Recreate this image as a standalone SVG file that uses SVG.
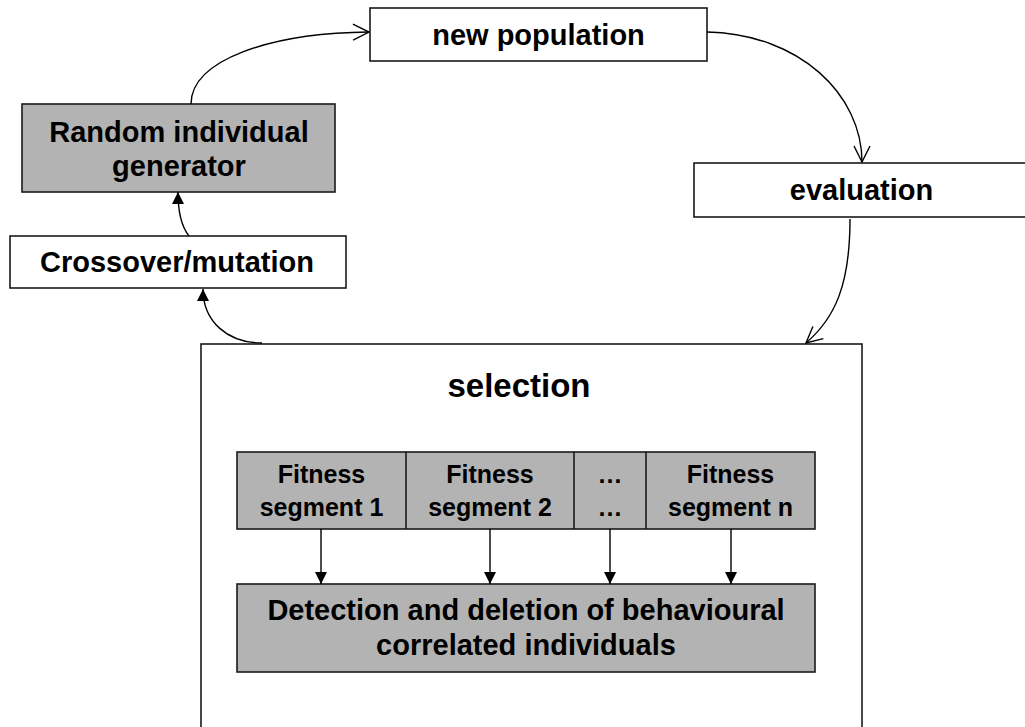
<svg xmlns="http://www.w3.org/2000/svg" width="1025" height="727" viewBox="0 0 1025 727">
  <style>
    .box { fill: #ffffff; stroke: #1a1a1a; stroke-width: 1.6; }
    .grey { fill: #b3b3b3; stroke: #1a1a1a; stroke-width: 1.6; }
    .lbl { font-family: "Liberation Sans", Arial, sans-serif; font-weight: bold; fill: #000; text-anchor: middle; }
    .edge { fill: none; stroke: #000; stroke-width: 1.4; }
  </style>
  <defs>
    <marker id="open" markerUnits="userSpaceOnUse" markerWidth="24" markerHeight="24" refX="20" refY="12" orient="auto">
      <path d="M4,4 L20,12 L4,20" fill="none" stroke="#000" stroke-width="1.4"/>
    </marker>
    <marker id="solid" markerUnits="userSpaceOnUse" markerWidth="16" markerHeight="16" refX="14" refY="8" orient="auto">
      <path d="M2,2 L14,8 L2,14 Z" fill="#000"/>
    </marker>
  </defs>
  <rect x="0" y="0" width="1025" height="727" fill="#ffffff"/>

  <g id="new-population">
    <rect class="box" x="370" y="8" width="337" height="53"/>
    <text class="lbl" x="538.5" y="45" font-size="29">new population</text>
  </g>

  <g id="evaluation">
    <rect class="box" x="694" y="163" width="340" height="54"/>
    <text class="lbl" x="861.5" y="200" font-size="29">evaluation</text>
  </g>

  <g id="random-generator">
    <rect class="grey" x="22" y="104" width="313" height="88"/>
    <text class="lbl" x="179" y="142" font-size="29">Random individual</text>
    <text class="lbl" x="179" y="176" font-size="29">generator</text>
  </g>

  <g id="crossover">
    <rect class="box" x="10" y="236" width="336" height="52"/>
    <text class="lbl" x="177" y="272" font-size="29">Crossover/mutation</text>
  </g>

  <g id="selection">
    <rect class="box" x="201" y="344" width="661" height="400"/>
    <text class="lbl" x="519" y="397" font-size="33">selection</text>
  </g>

  <g id="fitness-segments">
    <rect class="grey" x="237" y="452" width="578" height="77"/>
    <line x1="406" y1="452" x2="406" y2="529" stroke="#1a1a1a" stroke-width="1.6"/>
    <line x1="574" y1="452" x2="574" y2="529" stroke="#1a1a1a" stroke-width="1.6"/>
    <line x1="646" y1="452" x2="646" y2="529" stroke="#1a1a1a" stroke-width="1.6"/>
    <text class="lbl" font-size="25" x="321.5" y="483">Fitness</text>
    <text class="lbl" font-size="25" x="321.5" y="516">segment 1</text>
    <text class="lbl" font-size="25" x="490" y="483">Fitness</text>
    <text class="lbl" font-size="25" x="490" y="516">segment 2</text>
    <text class="lbl" font-size="25" x="610" y="483">…</text>
    <text class="lbl" font-size="25" x="610" y="516">…</text>
    <text class="lbl" font-size="25" x="730.5" y="483">Fitness</text>
    <text class="lbl" font-size="25" x="730.5" y="516">segment n</text>
  </g>

  <g id="detection">
    <rect class="grey" x="237" y="584" width="578" height="88"/>
    <text class="lbl" x="526" y="620" font-size="29">Detection and deletion of behavioural</text>
    <text class="lbl" x="526" y="655" font-size="29">correlated individuals</text>
  </g>

  <g id="connectors">
    <path class="edge" d="M191,104 C191,60 270,33 369,32" marker-end="url(#open)"/>
    <path class="edge" d="M707,32 C800,34 862,95 862,162" marker-end="url(#open)"/>
    <path class="edge" d="M850,219 C850,285 835,318 806,343" marker-end="url(#open)"/>
    <path class="edge" d="M262,343 C228,343 203,322 203,289" marker-end="url(#solid)"/>
    <path class="edge" d="M189,236 C181,226 178,210 178,192" marker-end="url(#solid)"/>
    <line class="edge" x1="321" y1="529" x2="321" y2="584" marker-end="url(#solid)"/>
    <line class="edge" x1="490" y1="529" x2="490" y2="584" marker-end="url(#solid)"/>
    <line class="edge" x1="610" y1="529" x2="610" y2="584" marker-end="url(#solid)"/>
    <line class="edge" x1="731" y1="529" x2="731" y2="584" marker-end="url(#solid)"/>
  </g>
</svg>
